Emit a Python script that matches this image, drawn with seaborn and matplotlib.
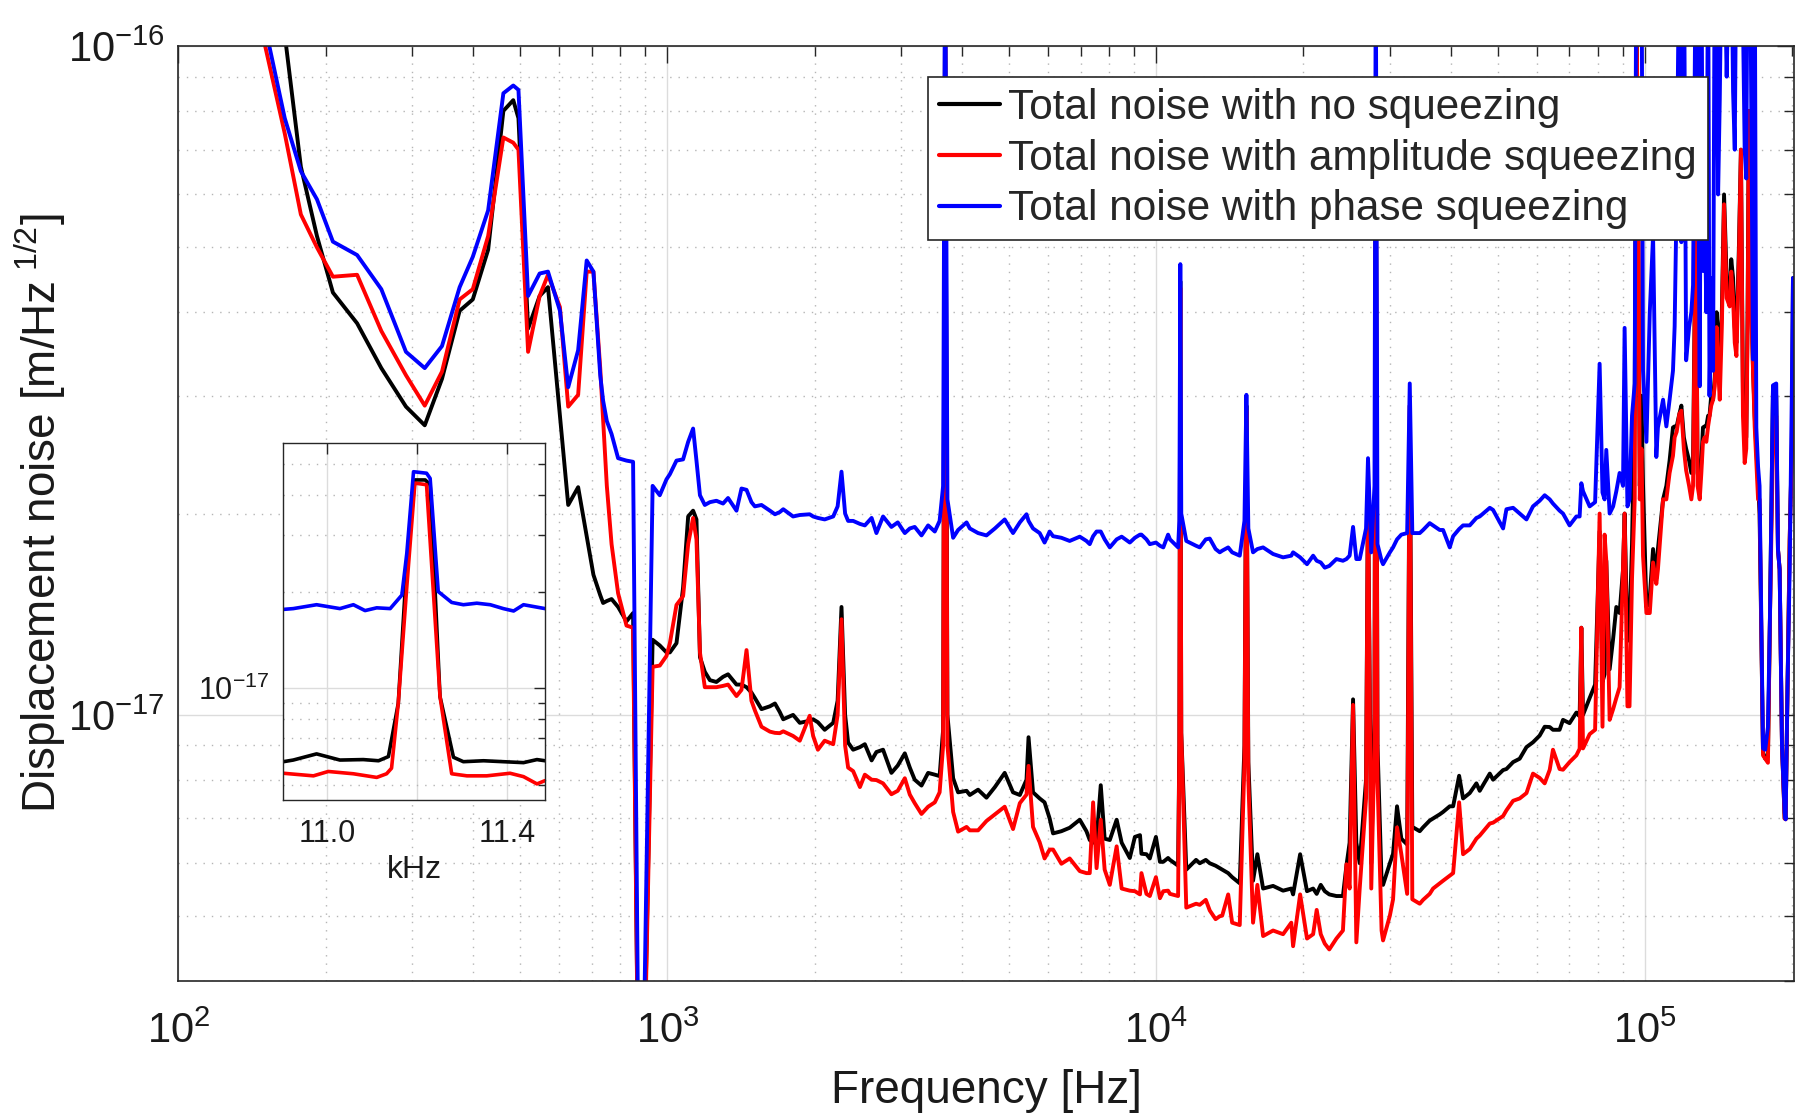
import numpy as np
import pandas as pd
import seaborn as sns
import matplotlib
matplotlib.use("Agg")
import matplotlib.pyplot as plt
from matplotlib.ticker import LogLocator, NullFormatter, FixedLocator, FixedFormatter

# ---- main spectrum (frequency in Hz, noise in units of 1e-18 m/Hz^1/2) ----
freq_hz = [
    150, 165, 178, 192, 207, 232, 260, 292, 319, 346, 376, 400, 430, 462, 484, 496, 519, 548, 570,
    603, 627, 657, 684, 706, 729, 739, 752, 769, 793, 825, 851, 880, 933, 965, 996,
    1012, 1044, 1077, 1103, 1129, 1147, 1166, 1193, 1222, 1260, 1300, 1331, 1385, 1418, 1452, 1486, 1510, 1558,
    1621, 1660, 1698, 1726, 1808, 1866, 1955, 1987, 2032, 2098, 2184, 2230, 2271, 2310, 2343, 2399, 2477, 2535, 2617, 2677,
    2762, 2873, 2960, 3060, 3133, 3206, 3310, 3415, 3524, 3605, 3665, 3700, 3740, 3842, 3933, 4093, 4156, 4321, 4495,
    4677, 4898, 5094, 5260, 5428, 5480, 5597, 5775, 5910, 6053, 6151, 6397, 6652, 6975, 7198, 7311,
    7428, 7550, 7700, 7843, 8035, 8299, 8497, 8829, 9043, 9263, 9327, 9549, 9702, 9985, 10176, 10337, 10573, 10668, 11084,
    11150, 11200, 11250, 11520, 12062, 12274, 12628, 12866, 13225, 13487, 13643, 14032, 14297, 14818, 15150, 15290, 15430, 15776,
    16100, 16540, 17337, 18172, 18890, 19050, 19693, 20340, 20936, 21290, 21700, 22116, 22590, 23362, 24090, 24490, 24860, 25267, 25660, 26070,
    26860, 27110, 27530, 27950, 28120, 28350, 28900, 29100, 30050, 30505, 31080, 31720, 32600, 33000, 33400, 34590, 35140, 36250,
    36830, 38000, 38610, 39840, 40480, 41640, 42420, 43770, 45170, 45880, 48110, 48860, 51220, 52030, 53690, 55380, 57180, 58960, 60830,
    62300, 63800, 64780, 66830, 67920, 70050, 72330, 73450, 74040, 74630, 77000, 79000, 80700, 81800, 82610, 83270, 84600, 86000, 87300, 88660, 90100, 90780, 92000, 92900, 94000,
    95200, 95940, 96700, 97500, 98300, 99000, 100600, 102200, 103800, 105400, 106200, 108800, 110500, 112200, 114000, 114900, 116000, 117500, 118600,
    120000, 121300, 123000, 124300, 125300, 127000, 128000, 129300, 130300, 131300, 132300, 133400, 134500, 135400, 136500, 137700,
    138800, 140000, 141000, 142100, 143500, 145000, 146800, 148900, 150000, 151300, 152500, 153700, 155500, 157000, 158500, 159800, 161000, 162000, 163000, 164500,
    166200, 167500, 168800, 170200, 171400, 174200, 176000, 178300, 180000, 182600, 185400, 186900, 188400, 190500, 192900, 193800, 195500, 197500, 199500, 200600, 202000,
]

no_squeezing = [
    150, 104, 66, 52, 42.8, 38.5, 33, 28.9, 27.1, 31.8, 40.2, 41.8, 49.6, 80, 83, 78, 37.8, 42.3, 43.6,
    28, 20.6, 21.9, 18.5, 16.2, 15.1, 14.7, 14.8, 14.9, 14.5, 13.8, 14.2, 1.5, 12.95, 12.7, 12.4,
    12.4, 12.8, 15.5, 19.8, 20.2, 19.6, 12.2, 11.6, 11.27, 11.2, 11.4, 11.5, 11.1, 11.1, 11.0, 10.8, 10.6, 10.2,
    10.3, 10.4, 10.1, 9.85, 10.0, 9.73, 9.8, 9.85, 9.75, 9.5, 9.73, 10.5, 14.5, 10.0, 9.09, 8.87, 8.95, 9.04, 8.55, 8.8,
    8.87, 8.19, 8.4, 8.76, 8.34, 8.0, 7.84, 8.19, 8.14, 8.1, 9.5, 130, 10.0, 8.04, 7.66, 7.7, 7.59, 7.73, 7.52,
    7.8, 8.19, 7.66, 7.59, 8.0, 9.26, 7.66, 7.5, 7.4, 7.0, 6.65, 6.7, 6.78, 6.97, 6.70, 6.5,
    6.44, 6.5, 7.85, 6.53, 6.5, 6.97, 6.44, 6.11, 6.57, 6.61, 6.2, 6.19, 6.1, 6.57, 6.03, 6.03, 6.11, 6.07, 5.95,
    9.0, 44.5, 9.4, 5.87, 6.07, 6.0, 6.07, 6.0, 5.95, 5.9, 5.87, 5.8, 5.72, 5.6, 9.0, 29, 8.5, 5.65,
    6.19, 5.50, 5.55, 5.46, 5.5, 5.39, 6.19, 5.45, 5.5, 5.4, 5.57, 5.45, 5.39, 5.36, 5.36, 5.95, 6.44, 10.55, 6.44, 6.0,
    8.0, 22, 6.0, 10, 90, 9, 5.65, 5.57, 6.0, 6.2, 7.30, 6.53, 6.4, 29, 6.8, 6.7, 6.79, 6.95,
    7.0, 7.1, 7.16, 7.3, 7.3, 8.11, 7.5, 7.64, 7.9, 7.7, 8.17, 8.0, 8.27, 8.3, 8.5, 8.6, 8.95, 9.1, 9.31,
    9.6, 9.59, 9.5, 9.5, 9.83, 9.72, 10.08, 9.95, 13.5, 10.0, 10.6, 11.1, 18.8, 11.2, 11.5, 17.0, 11.7, 13.0, 14.5, 14.2, 16.5, 20.0, 12.9, 13.5, 18.0,
    30, 110, 60, 22, 30, 22.1, 14.5, 15, 17.7, 16, 17.7, 21.0, 22, 24, 26.9, 27, 27, 28.2, 29,
    26, 25, 24, 23, 24, 60, 23, 22, 24, 26.9, 27, 27, 28, 28, 30, 29.6,
    32, 40, 37, 35, 40, 60, 45, 42, 48, 45, 38, 36, 50, 70, 30, 26, 26, 40, 80, 45,
    33, 28, 25, 22, 20, 8.8, 8.6, 8.67, 14, 31, 30, 17.7, 16.5, 9, 7.0, 7.0, 11, 18.2, 25, 45, 44,
]

amplitude_squeezing = [
    101, 74, 56, 50, 45.2, 45.5, 37.5, 32.2, 29.0, 32.6, 41.8, 43.3, 52, 73, 71.7, 70, 34.9, 42.3, 45.5,
    40.7, 28.9, 30.1, 46, 46, 33, 27.6, 22, 18.0, 15.2, 13.6, 13.5, 1.5, 11.8, 11.85, 12.25,
    12.8, 14.6, 15.05, 18.0, 19.7, 18.3, 12.4, 11.0, 11.0, 11.0, 11.05, 11.1, 10.67, 10.9, 12.5, 10.5, 10.16, 9.6,
    9.44, 9.4, 9.39, 9.45, 9.3, 9.15, 9.97, 9.3, 8.87, 9.15, 9.04, 10.0, 13.9, 9.0, 8.34, 8.24, 7.8, 8.14, 8.0, 7.99,
    7.9, 7.61, 7.7, 8.04, 7.6, 7.38, 7.11, 7.29, 7.4, 7.66, 9.0, 130, 9.0, 7.16, 6.69, 6.8, 6.72, 6.72, 6.94,
    7.1, 7.29, 6.75, 7.38, 7.6, 8.39, 6.8, 6.45, 6.1, 6.29, 6.29, 5.99, 6.1, 5.84, 5.80, 5.8,
    7.40, 5.9, 6.97, 5.87, 5.57, 6.36, 5.50, 5.46, 5.45, 5.39, 5.80, 5.40, 5.36, 5.72, 5.32, 5.45, 5.46, 5.40, 5.36,
    9.0, 43.5, 9.4, 5.15, 5.22, 5.2, 5.29, 5.1, 4.95, 5.0, 5.01, 5.39, 4.89, 4.85, 8.5, 28.5, 8.0, 4.89,
    5.57, 4.67, 4.76, 4.70, 4.89, 4.51, 5.39, 4.63, 4.7, 5.11, 4.70, 4.55, 4.46, 4.63, 4.76, 5.98, 5.5, 10.35, 4.57, 5.5,
    7.5, 22, 5.5, 9, 90, 8, 4.76, 4.6, 5.01, 5.3, 6.79, 6.19, 5.4, 29, 5.3, 5.22, 5.29, 5.4,
    5.5, 5.6, 5.65, 5.75, 5.8, 7.40, 6.19, 6.3, 6.53, 6.6, 6.88, 6.9, 7.06, 7.2, 7.44, 7.5, 7.64, 8.17, 8.05,
    7.9, 8.28, 8.87, 8.3, 8.28, 8.5, 8.7, 8.9, 13.5, 8.91, 9.36, 9.5, 20.0, 9.6, 18.6, 17.0, 9.83, 10.2, 10.6, 11.0, 16.5, 20.0, 10.3, 10.3, 16.0,
    21, 100, 81, 21, 25, 17.3, 14.2, 14.2, 16.9, 15.7, 16.5, 21.0, 21, 23, 24.4, 26, 26.5, 28.2, 28.5,
    25, 23.2, 22, 21.0, 22, 60, 22, 21.0, 23, 25.6, 26, 25.6, 27, 27.9, 29, 29.6,
    31, 38, 33, 29.6, 38, 58, 42, 40.8, 46, 42, 36, 34.4, 48, 70, 28, 23.8, 25, 38, 80, 42,
    32.7, 27, 24, 21.0, 21.0, 8.7, 8.6, 8.48, 14, 25.6, 28, 17.7, 16.5, 9, 7.0, 6.98, 11, 18.2, 25, 28.2, 44,
]

phase_squeezing = [
    108, 78, 65, 59, 51, 48.7, 43.3, 34.9, 33.0, 35.6, 43.6, 48.4, 56.8, 85, 87.3, 86, 42.3, 45.7, 46,
    40.2, 30.9, 35.1, 47.8, 46, 32.2, 29.5, 27.5, 26.3, 24.2, 24.0, 23.9, 1.5, 22.0, 21.3, 22.5,
    22.9, 24.0, 24.1, 25.6, 26.8, 24.0, 21.3, 20.6, 20.8, 20.9, 20.7, 21.1, 20.2, 21.8, 21.7, 20.8, 20.5, 20.6,
    20.2, 19.95, 20.1, 20.3, 19.8, 19.9, 19.95, 19.8, 19.7, 19.6, 19.8, 20.5, 23.1, 20.0, 19.5, 19.5, 19.3, 19.2, 19.7, 18.7,
    19.8, 19.1, 19.4, 18.7, 19.0, 19.1, 18.55, 19.2, 18.8, 19.5, 22, 160, 21, 18.4, 18.9, 19.4, 19.0, 18.7, 18.55,
    19.0, 19.6, 18.7, 19.4, 19.95, 19.5, 19.0, 18.7, 18.1, 18.8, 18.5, 18.4, 18.2, 18.47, 18.2, 18.0,
    18.5, 18.8, 18.8, 18.3, 17.8, 18.3, 18.47, 18.1, 18.4, 18.6, 18.6, 18.3, 18.0, 18.1, 17.9, 17.8, 18.6, 18.3, 17.8,
    19.5, 47.2, 20.0, 18.2, 17.9, 17.8, 18.3, 18.35, 17.7, 17.5, 17.6, 17.8, 17.5, 17.3, 19.5, 30.1, 19.0, 17.5,
    17.7, 17.8, 17.4, 17.2, 17.3, 17.5, 17.2, 16.8, 17.3, 17.0, 16.9, 16.6, 16.7, 17.1, 17.0, 17.1, 17.3, 19.1, 17.1, 17.1,
    19.0, 24.2, 17.5, 22, 140, 18, 17.0, 16.8, 17.5, 17.8, 18.3, 18.6, 18.7, 31.3, 18.7, 18.7, 18.9, 19.35,
    19.2, 18.9, 18.9, 17.8, 18.5, 18.96, 19.2, 19.2, 19.7, 19.8, 20.4, 20.25, 19.0, 20.3, 20.4, 20.0, 19.6, 20.5, 20.9,
    21.3, 21.0, 20.7, 20.2, 20.0, 19.2, 19.8, 19.8, 22.2, 21.6, 20.5, 20.8, 33.5, 21.5, 21.0, 24.9, 20.0, 20.5, 21.6, 23.0, 22.0, 37.9, 20.5, 21.0, 28.0,
    31.3, 150, 150, 120, 150, 32.7, 25.6, 40, 52.1, 24.3, 26.9, 29.6, 27, 29.6, 32.7, 38.1, 60, 150, 50.9,
    150, 33.9, 38, 40, 43.9, 150, 100, 31.0, 150, 46.1, 60, 40, 150, 30, 45, 32.7,
    150, 120, 60, 83.1, 150, 150, 90, 150, 150, 85.5, 70, 150, 150, 150, 110, 70, 63.4, 150, 150, 100,
    34, 150, 26.9, 23.5, 22, 8.91, 8.87, 9.59, 14, 31.1, 31.3, 17.7, 16.5, 9, 7.14, 6.98, 11, 16.5, 30, 45, 44,
]

# ---- inset: zoom on the 11.2 kHz line (frequency in kHz, same units) ----
inset_no_khz = [10.902, 10.924, 10.976, 11.028, 11.080, 11.114, 11.136, 11.158, 11.177, 11.195,
                11.218, 11.229, 11.251, 11.281, 11.303, 11.348, 11.392, 11.437, 11.467, 11.485]
inset_no = [5.91, 5.98, 6.25, 5.98, 6.0, 5.95, 6.13, 8.98, 24.5, 44.5,
            44.5, 43.0, 9.42, 6.1, 5.91, 5.95, 5.91, 5.87, 6.0, 5.95]
inset_amp_khz = [10.902, 10.969, 11.002, 11.058, 11.110, 11.132, 11.143, 11.158, 11.177, 11.195,
                 11.221, 11.251, 11.277, 11.311, 11.355, 11.407, 11.437, 11.467, 11.485]
inset_amp = [5.44, 5.34, 5.51, 5.42, 5.28, 5.42, 5.64, 8.98, 20.7, 43.5,
             43.0, 9.42, 5.42, 5.34, 5.34, 5.44, 5.31, 5.04, 5.16]
inset_phase_khz = [10.902, 10.924, 10.976, 11.028, 11.058, 11.084, 11.110, 11.140, 11.166, 11.177, 11.192,
                   11.221, 11.229, 11.247, 11.277, 11.303, 11.333, 11.363, 11.392, 11.415, 11.437, 11.485]
inset_phase = [17.6, 17.7, 18.2, 17.7, 18.2, 17.45, 17.8, 17.7, 19.5, 26.3, 47.2,
               46.7, 45.0, 20.0, 18.5, 18.2, 18.4, 18.2, 17.7, 17.4, 18.2, 17.7]

labels = ["Total noise with no squeezing",
          "Total noise with amplitude squeezing",
          "Total noise with phase squeezing"]
colors = ["#000000", "#ff0000", "#0000ff"]
palette = dict(zip(labels, colors))

assert len(freq_hz) == len(no_squeezing) == len(amplitude_squeezing) == len(phase_squeezing)

main_df = pd.concat([
    pd.DataFrame({"freq": freq_hz, "noise": np.array(vals) * 1e-18, "series": lab})
    for vals, lab in zip([no_squeezing, amplitude_squeezing, phase_squeezing], labels)
], ignore_index=True)

inset_df = pd.concat([
    pd.DataFrame({"freq": f, "noise": np.array(v) * 1e-18, "series": lab})
    for f, v, lab in zip([inset_no_khz, inset_amp_khz, inset_phase_khz],
                         [inset_no, inset_amp, inset_phase], labels)
], ignore_index=True)

sns.set_style("white")
plt.rcParams["font.family"] = ["Liberation Sans", "DejaVu Sans"]
plt.rcParams["mathtext.fontset"] = "custom"
plt.rcParams["mathtext.rm"] = "Liberation Sans"
plt.rcParams["mathtext.it"] = "Liberation Sans:italic"
plt.rcParams["mathtext.bf"] = "Liberation Sans:bold"
plt.rcParams["axes.unicode_minus"] = False

edge = "#262626"
txt = "#1a1a1a"
fig = plt.figure(figsize=(18.06, 11.18), dpi=100)

# main axes
ax = fig.add_axes([0.0988, 0.1225, 0.8948, 0.8363])
ax.set_xscale("log")
ax.set_yscale("log")
sns.lineplot(data=main_df, x="freq", y="noise", hue="series", hue_order=labels,
             palette=palette, estimator=None, sort=False, linewidth=2.8, ax=ax)
ax.set_xlim(100, 2.02e5)
ax.set_ylim(4e-18, 1e-16)
# only the decades inside the view, so no label sits off the canvas
ax.xaxis.set_major_locator(FixedLocator([1e2, 1e3, 1e4, 1e5]))
ax.yaxis.set_major_locator(FixedLocator([1e-17, 1e-16]))
ax.xaxis.set_minor_locator(LogLocator(base=10, subs=np.arange(2, 10), numticks=40))
ax.yaxis.set_minor_locator(LogLocator(base=10, subs=np.arange(2, 10), numticks=40))
ax.xaxis.set_minor_formatter(NullFormatter())
ax.yaxis.set_minor_formatter(NullFormatter())
ax.grid(which="major", color="#dcdcdc", linestyle="-", linewidth=1.0)
ax.grid(which="minor", color="#b5b5b5", linestyle=(0, (1, 5)), linewidth=1.0)
ax.set_axisbelow(True)
ax.tick_params(which="both", direction="in", top=True, right=True, colors=edge,
               labelcolor=txt, labelsize=30, width=1.0)
ax.tick_params(which="major", length=12)
ax.tick_params(which="minor", length=7)
ax.tick_params(axis="x", which="major", pad=22)
ax.tick_params(axis="y", which="major", pad=10)
for sp in ax.spines.values():
    sp.set_color(edge)
    sp.set_linewidth(1.2)
ax.set_xlabel("Frequency [Hz]", fontsize=33, labelpad=12, color=txt)
ax.set_ylabel(r"Displacement noise [m/Hz$^{\ 1/2}$]", fontsize=33, labelpad=0, color=txt)

sns.move_legend(ax, loc="upper right", bbox_to_anchor=(0.9465, 0.9666), title=None,
                fontsize=30.4, frameon=True, fancybox=False, edgecolor=edge, framealpha=1,
                borderaxespad=0, handlelength=1.45, handletextpad=0.2, borderpad=0.26,
                labelspacing=0.25)
leg = ax.get_legend()
leg.get_frame().set_linewidth(1.2)
for ln in leg.get_lines():
    ln.set_linewidth(3.0)

# inset axes
axi = fig.add_axes([0.1569, 0.2844, 0.1449, 0.3196])
axi.set_facecolor("white")
axi.set_yscale("log")
sns.lineplot(data=inset_df, x="freq", y="noise", hue="series", hue_order=labels,
             palette=palette, estimator=None, sort=False, linewidth=2.6, legend=False, ax=axi)
axi.set_xlim(10.902, 11.485)
axi.set_ylim(4.49e-18, 5.81e-17)
axi.xaxis.set_major_locator(FixedLocator([11.0, 11.2, 11.4]))
axi.xaxis.set_major_formatter(FixedFormatter(["11.0", "", "11.4"]))
axi.yaxis.set_major_locator(FixedLocator([1e-17]))
axi.yaxis.set_minor_locator(LogLocator(base=10, subs=np.arange(2, 10), numticks=40))
axi.yaxis.set_minor_formatter(NullFormatter())
axi.grid(which="major", color="#dcdcdc", linestyle="-", linewidth=1.0)
axi.grid(which="minor", axis="y", color="#b5b5b5", linestyle=(0, (1, 5)), linewidth=1.0)
axi.set_axisbelow(True)
axi.tick_params(which="both", direction="in", top=True, right=True, colors=edge,
                labelcolor=txt, labelsize=22, width=1.0)
axi.tick_params(which="major", length=8)
axi.tick_params(axis="x", which="major", pad=14)
axi.tick_params(axis="y", which="major", pad=10)
axi.tick_params(which="minor", length=5)
for sp in axi.spines.values():
    sp.set_color(edge)
    sp.set_linewidth(1.0)
axi.set_xlabel("kHz", fontsize=23, labelpad=4, color=txt)
axi.set_ylabel("")

fig.savefig("out.png", dpi=100)
